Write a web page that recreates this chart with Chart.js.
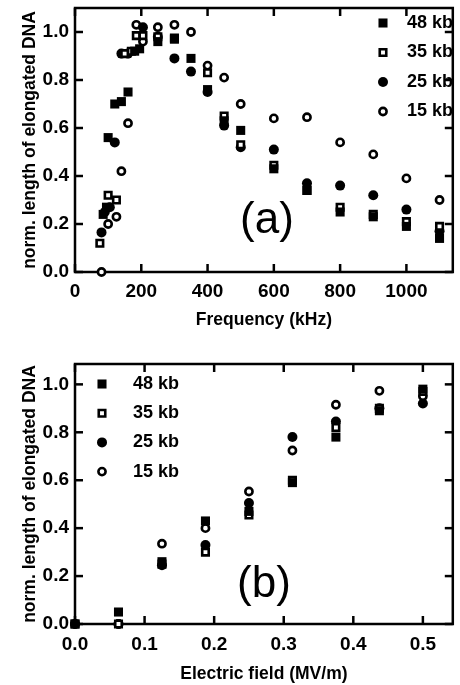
<!DOCTYPE html>
<html>
<head>
<meta charset="utf-8">
<script src="https://cdn.jsdelivr.net/npm/chart.js@4.4.1/dist/chart.umd.min.js"></script>
<style>
  html, body { margin: 0; padding: 0; background: #fff; }
  #wrapA { position: absolute; left: 0; top: 0; width: 460px; height: 340px; }
  #wrapB { position: absolute; left: 0; top: 340px; width: 460px; height: 345px; }
</style>
</head>
<body>
<div id="wrapA"><canvas id="chartA" width="460" height="340"></canvas></div>
<div id="wrapB"><canvas id="chartB" width="460" height="345"></canvas></div>
<script>
// ---- panel (a): length vs frequency (kHz) ----
const freq48 = [85, 95, 100, 120, 140, 160, 180, 195, 250, 300, 350, 400, 450, 500, 600, 700, 800, 900, 1000, 1100];
const len48  = [0.24, 0.27, 0.56, 0.70, 0.71, 0.75, 0.92, 0.93, 0.96, 0.97, 0.89, 0.76, 0.63, 0.59, 0.43, 0.34, 0.25, 0.23, 0.19, 0.14];
const freq35 = [75, 100, 125, 150, 170, 185, 205, 250, 300, 400, 450, 500, 600, 700, 800, 900, 1000, 1100];
const len35  = [0.12, 0.32, 0.30, 0.91, 0.92, 0.985, 0.985, 0.98, 0.975, 0.83, 0.65, 0.53, 0.445, 0.34, 0.27, 0.24, 0.21, 0.19];
const freq25 = [80, 90, 105, 120, 140, 160, 205, 250, 300, 350, 400, 450, 500, 600, 700, 800, 900, 1000, 1100];
const len25  = [0.165, 0.25, 0.27, 0.54, 0.91, 0.91, 1.02, 0.98, 0.89, 0.835, 0.75, 0.61, 0.52, 0.51, 0.37, 0.36, 0.32, 0.26, 0.17];
const freq15 = [80, 100, 125, 140, 160, 185, 205, 250, 300, 350, 400, 450, 500, 600, 700, 800, 900, 1000, 1100];
const len15  = [0.0, 0.20, 0.23, 0.42, 0.62, 1.03, 0.96, 1.02, 1.03, 1.0, 0.86, 0.81, 0.70, 0.64, 0.645, 0.54, 0.49, 0.39, 0.30];

// ---- panel (b): length vs electric field (MV/m) ----
const field   = [0, 0.0625, 0.125, 0.1875, 0.25, 0.3125, 0.375, 0.4375, 0.5];
const field48 = [0, 0.05, 0.26, 0.43, 0.47, 0.59, 0.78, 0.89, 0.98];
const field35 = [0, 0, 0.25, 0.30, 0.455, 0.60, 0.82, 0.90, 0.97];
const field25 = [0, 0, 0.245, 0.33, 0.505, 0.78, 0.845, 0.90, 0.92];
const field15 = [0, 0, 0.335, 0.40, 0.553, 0.724, 0.915, 0.973, 0.95];

const seriesLabels = ['48 kb', '35 kb', '25 kb', '15 kb'];
const yTitle = 'norm. length of elongated DNA';

// marker look for each series: filled square, open square, filled dot, open dot
const markers = [
  { pointStyle: 'rect',   pointRadius: 6.4, pointBackgroundColor: '#000', pointBorderColor: '#000', pointBorderWidth: 0 },
  { pointStyle: 'rect',   pointRadius: 4.6, pointBackgroundColor: '#fff', pointBorderColor: '#000', pointBorderWidth: 2.6 },
  { pointStyle: 'circle', pointRadius: 5,   pointBackgroundColor: '#000', pointBorderColor: '#000', pointBorderWidth: 0 },
  { pointStyle: 'circle', pointRadius: 3.6, pointBackgroundColor: '#fff', pointBorderColor: '#000', pointBorderWidth: 2.6 }
];

const FONT = '"Liberation Sans", Arial, Helvetica, sans-serif';

function pairs(xs, ys) {
  return xs.map((x, i) => ({ x: x, y: ys[i] }));
}

function drawMarker(ctx, m, x, y) {
  ctx.beginPath();
  if (m.pointStyle === 'rect') {
    const s = Math.SQRT1_2 * m.pointRadius;
    ctx.rect(x - s, y - s, 2 * s, 2 * s);
  } else {
    ctx.arc(x, y, m.pointRadius, 0, Math.PI * 2);
  }
  ctx.fillStyle = m.pointBackgroundColor;
  ctx.fill();
  if (m.pointBorderWidth) {
    ctx.lineWidth = m.pointBorderWidth;
    ctx.strokeStyle = m.pointBorderColor;
    ctx.stroke();
  }
}

// box around the plot with inward ticks on all four sides
const frameTicks = {
  id: 'frameTicks',
  beforeDatasetsDraw(chart) {
    const { ctx, chartArea: a, scales: { x, y } } = chart;
    ctx.save();
    ctx.strokeStyle = '#000';
    ctx.lineWidth = 2.5;
    ctx.strokeRect(a.left, a.top, a.right - a.left, a.bottom - a.top);
    const line = (x1, y1, x2, y2) => { ctx.beginPath(); ctx.moveTo(x1, y1); ctx.lineTo(x2, y2); ctx.stroke(); };
    x.ticks.forEach(t => {
      const px = x.getPixelForValue(t.value);
      const len = t.label ? 8 : 4.5;
      line(px, a.bottom, px, a.bottom - len);
      line(px, a.top, px, a.top + len);
    });
    y.ticks.forEach(t => {
      const py = y.getPixelForValue(t.value);
      const len = t.label ? 8 : 4.5;
      line(a.left, py, a.left + len, py);
      line(a.right, py, a.right - len, py);
    });
    ctx.restore();
  }
};

// legend and panel tag inside the plot
const insideText = {
  id: 'insideText',
  afterDraw(chart, args, opts) {
    const { ctx } = chart;
    ctx.save();
    ctx.font = 'bold 18px ' + FONT;
    ctx.textBaseline = 'middle';
    ctx.textAlign = 'left';
    seriesLabels.forEach((lab, i) => {
      const yy = opts.legendY + i * opts.legendStep;
      drawMarker(ctx, markers[i], opts.legendX, yy);
      ctx.fillStyle = '#000';
      ctx.fillText(lab, opts.legendX + opts.textGap, yy);
    });
    ctx.font = '44px ' + FONT;
    ctx.fillStyle = '#000';
    ctx.textAlign = 'center';
    ctx.textBaseline = 'alphabetic';
    ctx.fillText(opts.tag, opts.tagX, opts.tagY);
    ctx.restore();
  }
};

function onStep(step) {
  return s => {
    s.ticks = s.ticks.filter(t => Math.abs(t.value / step - Math.round(t.value / step)) < 1e-6);
  };
}

// keep the plot box exactly where the layout padding puts it
function noEdgePadding(s) {
  s.paddingTop = 0; s.paddingBottom = 0; s.paddingLeft = 0; s.paddingRight = 0;
}

function makePanel(id, cfg) {
  const datasets = cfg.series.map((s, i) => Object.assign({
    label: seriesLabels[i],
    data: pairs(s[0], s[1]),
    clip: false
  }, markers[i]));

  return new Chart(document.getElementById(id), {
    type: 'scatter',
    data: { datasets: datasets },
    options: {
      responsive: false,
      animation: false,
      events: [],
      layout: { padding: { top: cfg.top, right: 1.5, left: 0, bottom: 0 } },
      plugins: {
        legend: { display: false },
        tooltip: { enabled: false },
        insideText: cfg.inside
      },
      scales: {
        x: {
          type: 'linear',
          min: cfg.xMin, max: cfg.xMax,
          afterBuildTicks: onStep(cfg.xStep),
          afterFit: s => { s.height = cfg.xHeight; noEdgePadding(s); },
          grid: { display: false, drawTicks: false },
          border: { display: false },
          ticks: {
            stepSize: cfg.xStep,
            maxTicksLimit: 100,
            includeBounds: false,
            autoSkip: false,
            maxRotation: 0,
            padding: cfg.xPad,
            color: '#000',
            font: { family: FONT, size: 19, weight: 'bold' },
            callback: cfg.xLabel
          },
          title: {
            display: true, text: cfg.xTitle, color: '#000',
            font: { family: FONT, size: 17.5, weight: 'bold' },
            padding: { top: 0, bottom: cfg.xTitlePad }
          }
        },
        y: {
          type: 'linear',
          min: 0, max: cfg.yMax,
          afterBuildTicks: onStep(0.1),
          afterFit: s => { s.width = 75; noEdgePadding(s); },
          grid: { display: false, drawTicks: false },
          border: { display: false },
          ticks: {
            stepSize: 0.1,
            maxTicksLimit: 100,
            includeBounds: false,
            autoSkip: false,
            padding: 6,
            color: '#000',
            font: { family: FONT, size: 19, weight: 'bold' },
            callback: v => (Math.round(v * 10) % 2 === 0 ? v.toFixed(1) : null)
          },
          title: {
            display: true, text: yTitle, color: '#000',
            font: { family: FONT, size: 17.5, weight: 'bold' },
            padding: { top: 20, bottom: 0 }
          }
        }
      }
    },
    plugins: [frameTicks, insideText]
  });
}

makePanel('chartA', {
  series: [[freq48, len48], [freq35, len35], [freq25, len25], [freq15, len15]],
  top: 8, xMin: 0, xMax: 1140, xStep: 100, yMax: 1.1,
  xHeight: 68, xPad: 8, xTitlePad: 9,
  xTitle: 'Frequency (kHz)',
  xLabel: v => (Math.round(v) % 200 === 0 ? String(Math.round(v)) : null),
  inside: { legendX: 383, legendY: 23, legendStep: 29.5, textGap: 24, tag: '(a)', tagX: 267, tagY: 233 }
});

makePanel('chartB', {
  series: [[field, field48], [field, field35], [field, field25], [field, field15]],
  top: 24, xMin: 0, xMax: 0.543, xStep: 0.05, yMax: 1.085,
  xHeight: 61, xPad: 9, xTitlePad: 0,
  xTitle: 'Electric field (MV/m)',
  xLabel: v => (Math.round(v * 100) % 10 === 0 ? v.toFixed(1) : null),
  inside: { legendX: 102, legendY: 44, legendStep: 29.2, textGap: 31, tag: '(b)', tagX: 264, tagY: 257 }
});
</script>
</body>
</html>
